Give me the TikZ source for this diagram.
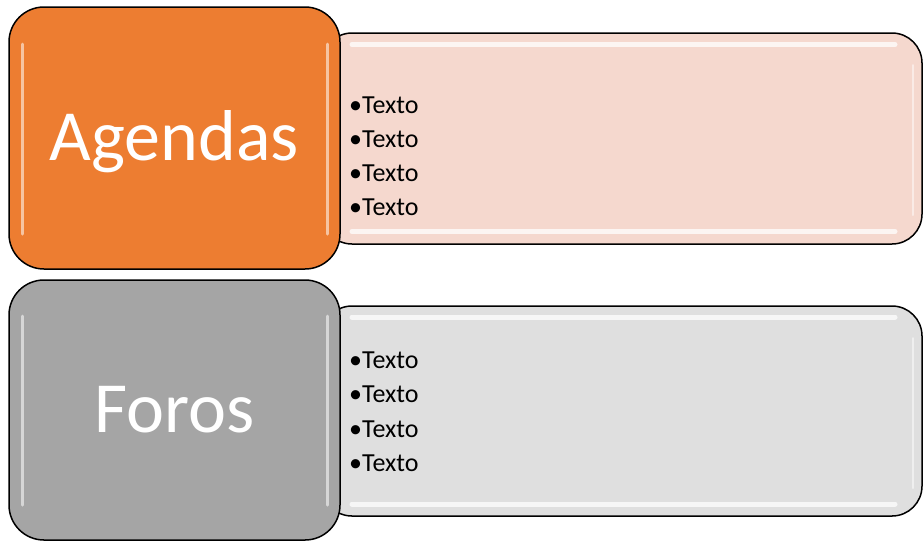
\documentclass[tikz,border=0pt]{standalone}
\usepackage{fontspec}
\setmainfont{Carlito}
\definecolor{orangebox}{HTML}{ED7D31}
\definecolor{pinkpanel}{HTML}{F5D8CE}
\definecolor{graybox}{HTML}{A5A5A5}
\definecolor{graypanel}{HTML}{DFDFDF}
\begin{document}
\begin{tikzpicture}[x=1pt,y=-1pt]
\tikzset{
  panelbox/.style={draw=black, line width=1.5pt, rounded corners=30pt, inner sep=0pt},
  catbox/.style={draw=black, line width=1.5pt, rounded corners=35pt, inner sep=0pt,
    text=white, font=\fontsize{72}{86}\selectfont, text height=46pt, text depth=2pt},
  itemtext/.style={anchor=base west, inner sep=0pt, font=\fontsize{26}{34}\selectfont},
  glint/.style={white, line cap=round, opacity=0.75},
  sideglint/.style={white, line cap=round, line width=3pt, opacity=0.55}
}
\useasboundingbox (0,0) rectangle (923,542);

% ---------- Agendas ----------
\node[panelbox, fill=pinkpanel, minimum width=600pt, minimum height=211pt] (agp) at (622,138.5) {};
\draw[glint, line width=5pt] (352,44.5) -- (895,44.5);
\draw[glint, line width=5pt] (352,231.5) -- (895,231.5);
\draw[glint, line width=2pt, opacity=0.5] (913,65) -- (913,215);

\node[catbox, fill=orangebox, minimum width=331pt, minimum height=262pt] (agb) at (174.5,138) {Agendas};
\draw[sideglint] (22,44) -- (22,234);
\draw[sideglint] (327,44) -- (327,234);

\foreach \i/\y in {1/113,2/147,3/181,4/215}
  \node[itemtext] (agt\i) at (349,\y) {\textbullet Texto};

% ---------- Foros ----------
\node[panelbox, fill=graypanel, minimum width=600pt, minimum height=210pt] (fop) at (622,411) {};
\draw[glint, line width=5pt] (352,317) -- (895,317);
\draw[glint, line width=5pt] (352,504) -- (895,504);
\draw[glint, line width=2pt, opacity=0.5] (913,338) -- (913,488);

\node[catbox, fill=graybox, minimum width=331pt, minimum height=260pt] (fob) at (174.5,410) {Foros};
\draw[sideglint] (22,316) -- (22,505);
\draw[sideglint] (327,316) -- (327,505);

\foreach \i/\y in {1/368,2/402,3/437,4/471}
  \node[itemtext] (fot\i) at (349,\y) {\textbullet Texto};
\end{tikzpicture}
\end{document}
